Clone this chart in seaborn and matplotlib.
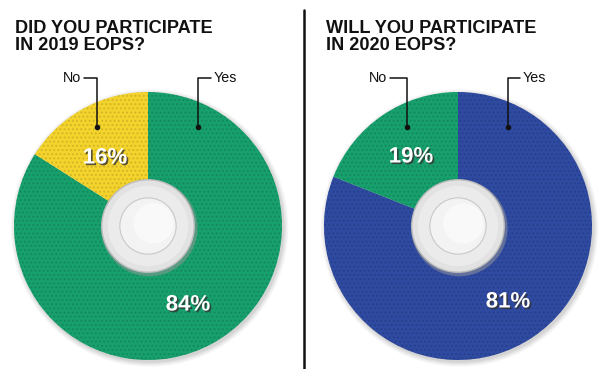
import matplotlib
matplotlib.use('Agg')
import matplotlib.pyplot as plt
import matplotlib.patheffects as pe
from matplotlib.patches import Circle
import seaborn as sns

# survey results
answers = ["Yes", "No"]
participated_2019 = [84, 16]
will_participate_2020 = [81, 19]
titles = ["DID YOU PARTICIPATE\nIN 2019 EOPS?", "WILL YOU PARTICIPATE\nIN 2020 EOPS?"]

green = "#17a06d"
yellow = "#f4d42c"
blue = "#2f4aa1"
panel_colors = [[green, yellow], [blue, green]]

sns.set_style("white")
plt.rcParams['font.family'] = ['Liberation Sans', 'DejaVu Sans']

W, H = 600, 369
fig = plt.figure(figsize=(W / 100, H / 100), dpi=100)
fig.patch.set_facecolor("white")

# overlay in pixel coords for the text / leader lines
over = fig.add_axes([0, 0, 1, 1])
over.set_xlim(0, W)
over.set_ylim(H, 0)
over.axis("off")

centers_x = [148, 458]
cy, rad = 226, 134
label_pct = [[(188, 305), (105, 158)], [(508, 302), (411, 157)]]
title_x = [15, 326]
no_pos = [(81, 78), (387, 78)]
yes_pos = [(214, 78), (523, 78)]
no_line_x = [97, 407]
yes_line_x = [198, 508]

for i, vals in enumerate([participated_2019, will_participate_2020]):
    cx = centers_x[i]
    lim = 1.05
    ax = fig.add_axes([(cx - rad * lim) / W, (H - cy - rad * lim) / H, 2 * rad * lim / W, 2 * rad * lim / H],
                      zorder=1)
    # soft drop shadow
    for k, a in enumerate([0.05, 0.06, 0.07, 0.09]):
        ax.add_patch(Circle((0.012, -0.015), 1.035 - k * 0.01, color="#555555", alpha=a, lw=0))
    wedges, _ = ax.pie(vals, colors=panel_colors[i], startangle=90, counterclock=False,
                       radius=1, wedgeprops=dict(linewidth=0))
    for w in wedges:
        w.set_hatch("....")
        w.set_edgecolor((0, 0, 0, 0.12))
        w.set_linewidth(0)
    # centre hub
    ax.add_patch(Circle((0.01, -0.015), 0.36, color="#9a9a9a", alpha=0.5, lw=0))
    ax.add_patch(Circle((0, 0), 0.345, facecolor="#e2e2e2", edgecolor="#bdbdbd", lw=1))
    ax.add_patch(Circle((0, 0), 0.3, facecolor="#ebebeb", lw=0))
    ax.add_patch(Circle((0, 0), 0.21, facecolor="#f3f3f3", edgecolor="#c9c9c9", lw=0.8))
    ax.add_patch(Circle((0.04, 0.02), 0.15, facecolor="#f9f9f9", lw=0))
    ax.set_xlim(-lim, lim)
    ax.set_ylim(-lim, lim)
    ax.set_aspect("equal")
    ax.axis("off")

    over.text(title_x[i], 50, titles[i], fontsize=13.1, fontweight="bold", color="#111111",
              va="baseline", ha="left", linespacing=1.0, multialignment="left")

    # leader lines
    nx, ny = no_pos[i]
    over.text(nx, ny, answers[1], fontsize=10.3, ha="right", va="center", color="#111111")
    over.plot([nx + 3, no_line_x[i], no_line_x[i]], [ny, ny, 127], color="#111111", lw=1.1, zorder=5)
    over.plot([no_line_x[i]], [127], "o", color="#111111", ms=3, zorder=5)
    yx, yy = yes_pos[i]
    over.text(yx, yy, answers[0], fontsize=10.3, ha="left", va="center", color="#111111")
    over.plot([yx - 3, yes_line_x[i], yes_line_x[i]], [yy, yy, 127], color="#111111", lw=1.1, zorder=5)
    over.plot([yes_line_x[i]], [127], "o", color="#111111", ms=3, zorder=5)

    for j, v in enumerate(vals):
        px, py = label_pct[i][j]
        over.text(px, py, f"{v}%", fontsize=16, fontweight="bold", color="white", ha="center", va="center",
                  zorder=6, path_effects=[pe.withSimplePatchShadow(offset=(1.2, -1.2), shadow_rgbFace="#333333", alpha=0.8)])

over.set_zorder(3)
over.plot([304, 304], [10, H], color="#111111", lw=1.8)

fig.savefig("out.png", dpi=100)
